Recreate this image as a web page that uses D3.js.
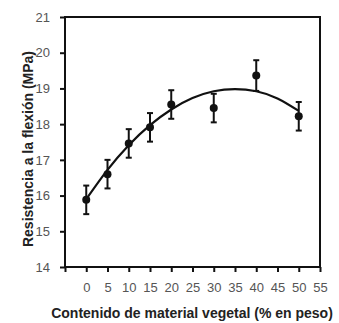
<!DOCTYPE html>
<html>
<head>
<meta charset="utf-8">
<script src="https://cdn.jsdelivr.net/npm/d3@7"></script>
<style>
  html, body { margin: 0; padding: 0; background: #fff; }
  svg { display: block; font-family: "Liberation Sans", Arial, sans-serif; }
</style>
</head>
<body>
<svg id="chart" width="339" height="323"></svg>
<script>
// measured points (% vegetal, MPa) and error half-widths
const contentPct = [0, 5, 10, 15, 20, 30, 40, 50];
const strength = [15.88, 16.6, 17.46, 17.91, 18.55, 18.45, 19.36, 18.22];
const errHalf = [0.4, 0.4, 0.4, 0.4, 0.4, 0.4, 0.43, 0.4];

// trend curve
const curveX = [0, 5, 10, 15, 20, 25, 30, 35, 40, 45, 50];
const curveY = [15.9, 16.72, 17.41, 17.97, 18.41, 18.73, 18.92, 18.98, 18.92, 18.72, 18.37];

const xTicks = [-5, 0, 5, 10, 15, 20, 25, 30, 35, 40, 45, 50, 55];
const yTicks = [14, 15, 16, 17, 18, 19, 20, 21];

const svg = d3.select('#chart');
const plotL = 65, plotR = 320, plotT = 17, plotB = 267;

const x = d3.scaleLinear().domain([-5, 55]).range([plotL, plotR]);
const y = d3.scaleLinear().domain([14, 21]).range([plotB, plotT]);

// frame
svg.append('rect')
    .attr('x', plotL).attr('y', plotT)
    .attr('width', plotR - plotL).attr('height', plotB - plotT)
    .attr('fill', 'none').attr('stroke', '#111').attr('stroke-width', 2);

// y axis
const yAxis = svg.append('g')
    .attr('transform', 'translate(' + plotL + ',0)')
    .call(d3.axisLeft(y).tickValues(yTicks).tickSize(5).tickPadding(10).tickFormat(d3.format('d')));
yAxis.select('.domain').remove();
yAxis.selectAll('line').attr('stroke', '#111').attr('stroke-width', 2);
yAxis.selectAll('text').attr('fill', '#555').style('font-size', '13px').attr('font-family', null);

// x axis
const xAxis = svg.append('g')
    .attr('transform', 'translate(0,' + plotB + ')')
    .call(d3.axisBottom(x).tickValues(xTicks).tickSize(5).tickPadding(11)
        .tickFormat(function (d) { return d < 0 ? '' : d; }));
xAxis.select('.domain').remove();
xAxis.selectAll('line').attr('stroke', '#111').attr('stroke-width', 2);
xAxis.selectAll('text').attr('fill', '#555').style('font-size', '13px').attr('font-family', null);

// trend curve
const line = d3.line()
    .x(function (d, i) { return x(curveX[i]); })
    .y(function (d) { return y(d); })
    .curve(d3.curveNatural);
svg.append('path')
    .attr('d', line(curveY))
    .attr('fill', 'none').attr('stroke', '#111').attr('stroke-width', 2.2);

// error bars
const bars = svg.append('g').attr('stroke', '#111').attr('stroke-width', 2);
contentPct.forEach(function (c, i) {
    const cx = x(c);
    const y1 = y(strength[i] + errHalf[i]);
    const y2 = y(strength[i] - errHalf[i]);
    bars.append('line').attr('x1', cx).attr('x2', cx).attr('y1', y1).attr('y2', y2);
    bars.append('line').attr('x1', cx - 3).attr('x2', cx + 3).attr('y1', y1).attr('y2', y1);
    bars.append('line').attr('x1', cx - 3).attr('x2', cx + 3).attr('y1', y2).attr('y2', y2);
});

// points
svg.append('g').selectAll('circle')
    .data(contentPct)
    .join('circle')
    .attr('cx', function (d) { return x(d); })
    .attr('cy', function (d, i) { return y(strength[i]); })
    .attr('r', 4)
    .attr('fill', '#111');

// axis titles
svg.append('text')
    .attr('x', 192).attr('y', 318)
    .attr('text-anchor', 'middle')
    .attr('font-weight', 'bold').attr('font-size', 14)
    .attr('fill', '#222')
    .text('Contenido de material vegetal (% en peso)');

svg.append('text')
    .attr('transform', 'translate(33,149) rotate(-90)')
    .attr('text-anchor', 'middle')
    .attr('font-weight', 'bold').attr('font-size', 14)
    .attr('fill', '#222')
    .text('Resistencia a la flexión (MPa)');
</script>
</body>
</html>
